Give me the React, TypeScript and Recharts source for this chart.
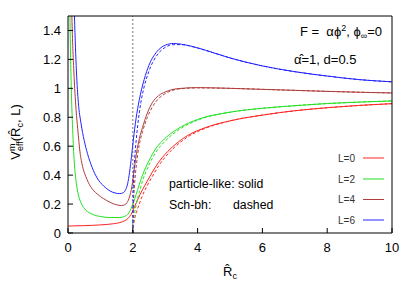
import { LineChart, Line, XAxis, YAxis, ReferenceLine } from 'recharts'

const FONT = '"Liberation Sans", Arial, sans-serif'

const xTicks = [0, 2, 4, 6, 8, 10]
const yTicks = [0, 0.2, 0.4, 0.6, 0.8, 1, 1.2, 1.4]

// particle-like solutions (solid)
const rL0 = [0, 0.5, 1, 1.4, 1.6, 1.75, 1.85, 1.95, 2.05, 2.15, 2.3, 2.45, 2.6, 2.8, 3.0, 3.3, 3.7, 4.2, 5, 6, 7, 8, 9, 10]
const vL0 = [0.048, 0.051, 0.056, 0.064, 0.072, 0.085, 0.1, 0.13, 0.18, 0.23, 0.3, 0.36, 0.42, 0.49, 0.545, 0.61, 0.675, 0.725, 0.775, 0.815, 0.845, 0.866, 0.882, 0.894]

const rL2 = [0.03, 0.06, 0.1, 0.15, 0.2, 0.26, 0.33, 0.42, 0.55, 0.75, 1.0, 1.3, 1.6, 1.75, 1.85, 1.95, 2.05, 2.15, 2.3, 2.5, 2.7, 3.0, 3.5, 4, 5, 6, 7, 8, 9, 10]
const vL2 = [2.2, 1.5, 1.02, 0.68, 0.47, 0.34, 0.255, 0.2, 0.158, 0.13, 0.114, 0.107, 0.107, 0.115, 0.13, 0.17, 0.23, 0.3, 0.4, 0.5, 0.58, 0.655, 0.735, 0.785, 0.835, 0.862, 0.88, 0.895, 0.905, 0.913]

const rL4 = [0.08, 0.12, 0.18, 0.25, 0.3, 0.37, 0.45, 0.55, 0.7, 0.9, 1.1, 1.3, 1.5, 1.65, 1.75, 1.82, 1.9, 1.97, 2.05, 2.12, 2.2, 2.3, 2.45, 2.6, 2.8, 3.0, 3.4, 4, 5, 6, 7, 8, 9, 10]
const vL4 = [2.0, 1.5, 1.12, 0.85, 0.72, 0.56, 0.46, 0.39, 0.32, 0.27, 0.237, 0.212, 0.195, 0.19, 0.195, 0.21, 0.25, 0.32, 0.45, 0.56, 0.65, 0.73, 0.83, 0.9, 0.95, 0.975, 0.998, 1.005, 1.0, 0.993, 0.986, 0.979, 0.973, 0.968]

const rL6 = [0.15, 0.2, 0.26, 0.32, 0.4, 0.5, 0.6, 0.75, 0.9, 1.1, 1.3, 1.45, 1.6, 1.7, 1.78, 1.84, 1.9, 1.96, 2.02, 2.1, 2.2, 2.35, 2.5, 2.75, 3.0, 3.25, 3.5, 4, 4.5, 5, 6, 7, 8, 9, 10]
const vL6 = [2.0, 1.5, 1.12, 0.9, 0.76, 0.64, 0.55, 0.45, 0.38, 0.325, 0.29, 0.277, 0.272, 0.278, 0.3, 0.34, 0.42, 0.53, 0.65, 0.79, 0.92, 1.06, 1.16, 1.255, 1.298, 1.31, 1.305, 1.28, 1.245, 1.21, 1.155, 1.115, 1.085, 1.06, 1.045]

// Schwarzschild black hole (dashed)
const rSchL0 = [2, 2.02, 2.06, 2.12, 2.2, 2.3, 2.45, 2.6, 2.8, 3.0, 3.3, 3.7, 4.2, 5, 6, 7, 8, 9, 10]
const vSchL0 = [0, 0.05, 0.1, 0.15, 0.2, 0.26, 0.33, 0.39, 0.465, 0.525, 0.595, 0.665, 0.72, 0.775, 0.815, 0.845, 0.866, 0.882, 0.894]

const rSchL2 = [2, 2.02, 2.05, 2.1, 2.15, 2.2, 2.3, 2.5, 2.7, 3.0, 3.5, 4, 5, 6, 7, 8, 9, 10]
const vSchL2 = [0, 0.07, 0.13, 0.19, 0.24, 0.28, 0.36, 0.47, 0.555, 0.635, 0.725, 0.78, 0.835, 0.862, 0.88, 0.895, 0.905, 0.913]

const rSchL4 = [2, 2.02, 2.05, 2.1, 2.15, 2.2, 2.3, 2.45, 2.6, 2.8, 3.0, 3.4, 4, 5, 6, 7, 8, 9, 10]
const vSchL4 = [0, 0.2, 0.32, 0.45, 0.54, 0.61, 0.7, 0.8, 0.87, 0.93, 0.963, 0.995, 1.003, 1.0, 0.993, 0.986, 0.979, 0.973, 0.968]

const rSchL6 = [2, 2.01, 2.03, 2.06, 2.1, 2.15, 2.2, 2.28, 2.35, 2.5, 2.75, 3.0, 3.25, 3.5, 4, 4.5, 5, 6, 7, 8, 9, 10]
const vSchL6 = [0, 0.25, 0.4, 0.52, 0.63, 0.74, 0.83, 0.94, 1.01, 1.12, 1.23, 1.283, 1.302, 1.302, 1.278, 1.245, 1.21, 1.155, 1.115, 1.085, 1.06, 1.045]

const toPoints = (rs: number[], vs: number[]) => rs.map((r, i) => ({ r, v: vs[i] }))

const series = [
  { name: 'L=0', color: '#ff2424', solid: toPoints(rL0, vL0), dashed: toPoints(rSchL0, vSchL0) },
  { name: 'L=2', color: '#22e022', solid: toPoints(rL2, vL2), dashed: toPoints(rSchL2, vSchL2) },
  { name: 'L=4', color: '#b03c3c', solid: toPoints(rL4, vL4), dashed: toPoints(rSchL4, vSchL4) },
  { name: 'L=6', color: '#2424ff', solid: toPoints(rL6, vL6), dashed: toPoints(rSchL6, vSchL6) },
]

const legendY = [158, 179, 199.5, 220]

export default function App() {
  return (
    <div style={{ position: 'absolute', left: 0, top: 0, width: 417, height: 292, background: '#fff', fontFamily: FONT }}>
      <LineChart width={417} height={292} margin={{ top: 0, right: 0, bottom: 0, left: 0 }}>
        <XAxis
          xAxisId="b" dataKey="r" type="number" domain={[0, 10]} ticks={xTicks} interval={0}
          allowDataOverflow height={59} tickSize={-5} tickMargin={15} stroke="#000"
          tick={{ fill: '#000', fontSize: 13, fontFamily: FONT }}
        />
        <XAxis
          xAxisId="t" orientation="top" type="number" domain={[0, 10]} ticks={xTicks} interval={0}
          allowDataOverflow height={16} tickSize={-5} tick={false} stroke="#000"
        />
        <YAxis
          yAxisId="l" type="number" domain={[0, 1.5]} ticks={yTicks} interval={0}
          allowDataOverflow width={68} tickSize={-5} tickMargin={12} stroke="#000"
          tick={{ fill: '#000', fontSize: 13, fontFamily: FONT }}
        />
        <YAxis
          yAxisId="r" orientation="right" type="number" domain={[0, 1.5]} ticks={yTicks} interval={0}
          allowDataOverflow width={25} tickSize={-5} tick={false} stroke="#000"
        />
        <ReferenceLine xAxisId="b" yAxisId="l" x={2} stroke="#777" strokeDasharray="2 2" />
        {series.map(s => (
          <Line
            key={s.name + '-solid'} xAxisId="b" yAxisId="l" data={s.solid} dataKey="v"
            type="monotone" stroke={s.color} strokeWidth={1} dot={false} activeDot={false}
            isAnimationActive={false}
          />
        ))}
        {series.map(s => (
          <Line
            key={s.name + '-dashed'} xAxisId="b" yAxisId="l" data={s.dashed} dataKey="v"
            type="monotone" stroke={s.color} strokeWidth={1} strokeDasharray="3 2" dot={false}
            activeDot={false} isAnimationActive={false}
          />
        ))}
      </LineChart>

      <svg width={417} height={292} style={{ position: 'absolute', left: 0, top: 0, pointerEvents: 'none' }} fontFamily={FONT}>
        <text x={300} y={36} fontSize={13}>
          {'F =\u00a0\u00a0αϕ'}<tspan dy={-5} fontSize={9}>2</tspan>
          <tspan dy={5}>, ϕ</tspan>
          <tspan dy={3} fontSize={9}>∞</tspan>
          <tspan dy={-3}>=0</tspan>
        </text>
        <text x={294} y={64} fontSize={13}>α̂=1, d=0.5</text>

        <text x={169} y={188} fontSize={12.3}>particle-like: solid</text>
        <text x={169} y={209} fontSize={12.3}>Sch-bh:</text>
        <text x={233} y={209} fontSize={12.3}>dashed</text>

        {series.map((s, i) => (
          <g key={s.name}>
            <text x={355} y={legendY[i] + 3.5} fontSize={10} fill="#333" textAnchor="end">{s.name}</text>
            <line x1={363} x2={384} y1={legendY[i]} y2={legendY[i]} stroke={s.color} strokeWidth={1} />
          </g>
        ))}

        <text transform="translate(20,132) rotate(-90)" textAnchor="middle" fontSize={13}>
          V<tspan dy={-5} fontSize={9}>m</tspan>
          <tspan dx={-7.5} dy={8} fontSize={9}>eff</tspan>
          <tspan dy={-3}>(R̂</tspan>
          <tspan dy={3} fontSize={9}>c</tspan>
          <tspan dy={-3}>{',\u00a0L)'}</tspan>
        </text>
        <text x={223} y={276} fontSize={13}>
          R̂<tspan dy={3} fontSize={9}>c</tspan>
        </text>
      </svg>
    </div>
  )
}
